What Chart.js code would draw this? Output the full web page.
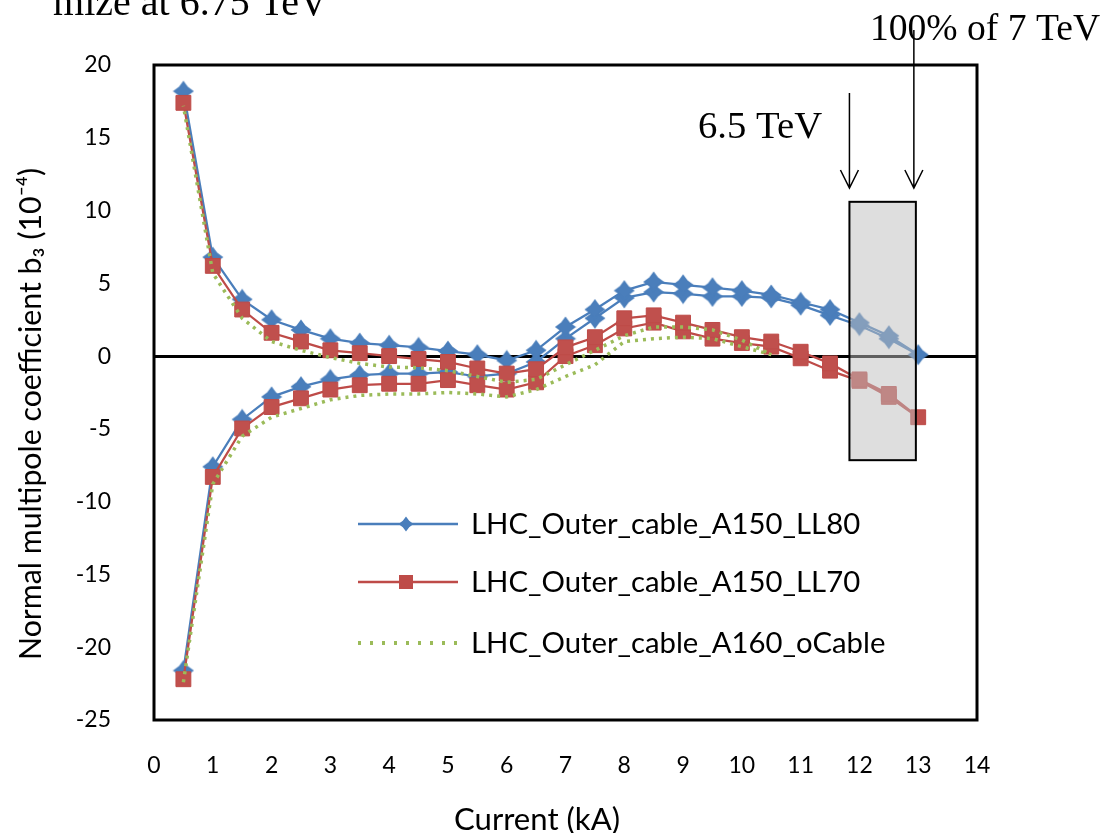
<!DOCTYPE html>
<html>
<head>
<meta charset="utf-8">
<script src="https://cdn.jsdelivr.net/npm/chart.js@4.4.0/dist/chart.umd.min.js"></script>
<style>
  html, body { margin: 0; padding: 0; background: #fff; }
</style>
</head>
<body>
<canvas id="chart" width="1107" height="833"></canvas>
<script>
// ramp up 0.5 -> 13 kA, ramp down 12.5 -> 0.5 kA
const currentUp = [0.5, 1, 1.5, 2, 2.5, 3, 3.5, 4, 4.5, 5, 5.5, 6, 6.5, 7, 7.5, 8, 8.5, 9, 9.5, 10, 10.5, 11, 11.5, 12, 12.5, 13];
const currentDown = [12.5, 12, 11.5, 11, 10.5, 10, 9.5, 9, 8.5, 8, 7.5, 7, 6.5, 6, 5.5, 5, 4.5, 4, 3.5, 3, 2.5, 2, 1.5, 1, 0.5];
// oCable only measured up to 10.5 kA
const currentUpOCable = [0.5, 1, 1.5, 2, 2.5, 3, 3.5, 4, 4.5, 5, 5.5, 6, 6.5, 7, 7.5, 8, 8.5, 9, 9.5, 10, 10.5];
const currentDownOCable = [10, 9.5, 9, 8.5, 8, 7.5, 7, 6.5, 6, 5.5, 5, 4.5, 4, 3.5, 3, 2.5, 2, 1.5, 1, 0.5];

const ll80Up = [-21.6, -7.6, -4.35, -2.8, -2.1, -1.6, -1.3, -1.2, -1.2, -1.1, -1.4, -1.2, -0.4, 1.2, 2.6, 4.0, 4.4, 4.3, 4.1, 4.1, 4.0, 3.5, 2.8, 2.1, 1.2, 0.1];
const ll80Down = [1.4, 2.3, 3.2, 3.7, 4.2, 4.5, 4.7, 4.9, 5.1, 4.5, 3.2, 2.0, 0.4, -0.3, 0.1, 0.35, 0.6, 0.75, 0.9, 1.2, 1.8, 2.5, 3.9, 6.8, 18.2];

const ll70Up = [-22.2, -8.3, -4.97, -3.5, -2.9, -2.3, -2.0, -1.9, -1.9, -1.65, -2.0, -2.3, -1.8, 0.0, 0.75, 1.9, 2.3, 1.7, 1.2, 0.9, 0.65, -0.15, -1.0, -1.7, -2.8, -4.2];
const ll70Down = [-2.6, -1.6, -0.5, 0.3, 1.0, 1.3, 1.8, 2.3, 2.8, 2.6, 1.3, 0.6, -0.9, -1.2, -0.85, -0.4, -0.2, 0.0, 0.2, 0.4, 1.0, 1.6, 3.2, 6.2, 17.4];

const oCableUp = [-22.4, -8.8, -5.5, -4.2, -3.6, -3.0, -2.7, -2.6, -2.6, -2.5, -2.6, -2.8, -2.3, -1.4, -0.6, 1.0, 1.2, 1.3, 1.2, 0.65, 0.1];
const oCableDown = [1.1, 1.8, 2.0, 2.0, 1.4, 0.4, -0.6, -1.6, -1.8, -1.4, -1.0, -0.8, -0.75, -0.5, -0.1, 0.4, 1.0, 2.6, 5.7, 17.2];

const seriesNames = ['LHC_Outer_cable_A150_LL80', 'LHC_Outer_cable_A150_LL70', 'LHC_Outer_cable_A160_oCable'];
const xTitle = 'Current (kA)';
const yTitle = 'Normal multipole coefficient b\u2083 (10\u207B\u2074)';
const xTicks = { min: 0, max: 14, step: 1 };
const yTicks = { min: -25, max: 20, step: 5 };

function loop(upX, upY, downX, downY) {
    const pts = upX.map((x, i) => ({ x: x, y: upY[i] }));
    return pts.concat(downX.map((x, i) => ({ x: x, y: downY[i] })));
}

const BLUE = '#4a7ebb';
const RED = '#be4b48';
const GREEN = '#9bbb59';

// star-ish marker like the spreadsheet one
function starMarker(size, color) {
    const c = document.createElement('canvas');
    c.width = size; c.height = size;
    const g = c.getContext('2d');
    const m = size / 2, o = size / 2 - 0.5, n = size * 0.2;
    g.fillStyle = color;
    g.beginPath();
    g.moveTo(m, m - o); g.lineTo(m + n, m - n); g.lineTo(m + o, m); g.lineTo(m + n, m + n);
    g.lineTo(m, m + o); g.lineTo(m - n, m + n); g.lineTo(m - o, m); g.lineTo(m - n, m - n);
    g.closePath();
    g.fill();
    g.beginPath();
    g.moveTo(m, m - size * 0.33); g.lineTo(m + size * 0.33, m); g.lineTo(m, m + size * 0.33); g.lineTo(m - size * 0.33, m);
    g.closePath();
    g.fill();
    return c;
}
const blueStar = starMarker(22, BLUE);
const blueStarSmall = starMarker(16, BLUE);

const tickFont = { family: "Lato, 'Open Sans', sans-serif", size: 23 };
const labelFont = "Lato, 'Open Sans', sans-serif";

// pick a font size so the text spans the wanted width
function fitFont(ctx, text, family, width, start) {
    ctx.font = start + 'px ' + family;
    const size = start * width / ctx.measureText(text).width;
    ctx.font = size.toFixed(1) + 'px ' + family;
}

const overlay = {
    id: 'overlay',
    beforeDatasetsDraw(chart) {
        const { ctx, chartArea: a } = chart;
        ctx.save();
        ctx.strokeStyle = '#000';
        ctx.lineWidth = 3;
        ctx.strokeRect(a.left, a.top, a.right - a.left, a.bottom - a.top);
        ctx.restore();
    },
    afterDatasetsDraw(chart) {
        const { ctx } = chart;
        const xs = chart.scales.x, ys = chart.scales.y;
        ctx.save();

        // shaded window 6.5 TeV .. 7 TeV
        const bx0 = xs.getPixelForValue(11.83), bx1 = xs.getPixelForValue(12.96);
        const by0 = ys.getPixelForValue(10.6), by1 = ys.getPixelForValue(-7.15);
        ctx.fillStyle = 'rgba(190,190,190,0.5)';
        ctx.fillRect(bx0, by0, bx1 - bx0, by1 - by0);
        ctx.strokeStyle = '#000';
        ctx.lineWidth = 2;
        ctx.strokeRect(bx0, by0, bx1 - bx0, by1 - by0);

        // arrows
        function arrow(x, y0, y1) {
            ctx.beginPath();
            ctx.lineWidth = 1.5;
            ctx.moveTo(x, y0); ctx.lineTo(x, y1);
            ctx.moveTo(x - 9, y1 - 18); ctx.lineTo(x, y1); ctx.lineTo(x + 9, y1 - 18);
            ctx.stroke();
        }
        arrow(bx0, 93, 188);
        arrow(bx1 - 2, 30, 188);

        ctx.fillStyle = '#000';
        ctx.textBaseline = 'alphabetic';
        ctx.textAlign = 'left';
        fitFont(ctx, '6.5 TeV', "'Liberation Serif', serif", 124, 36);
        ctx.fillText('6.5 TeV', 698, 138);
        fitFont(ctx, '100% of 7 TeV', "'Liberation Serif', serif", 230, 36);
        ctx.fillText('100% of 7 TeV', 870, 40);
        ctx.font = "40px 'Liberation Serif', serif";
        ctx.textAlign = 'right';
        ctx.fillText('mize at 6.75 TeV', 328, 15);

        // legend inside the plot
        const rows = [
            { y: 524, color: BLUE, dash: [], width: 2.5, marker: 'star' },
            { y: 582, color: RED, dash: [], width: 2.5, marker: 'square' },
            { y: 643, color: GREEN, dash: [3, 9], width: 4, marker: null }
        ];
        ctx.textAlign = 'left';
        ctx.textBaseline = 'middle';
        fitFont(ctx, seriesNames[0], labelFont, 389, 26);
        rows.forEach((r, i) => {
            ctx.strokeStyle = r.color;
            ctx.lineWidth = r.width;
            ctx.setLineDash(r.dash);
            ctx.beginPath();
            ctx.moveTo(358, r.y); ctx.lineTo(458, r.y);
            ctx.stroke();
            ctx.setLineDash([]);
            if (r.marker === 'star') {
                ctx.drawImage(blueStarSmall, 406 - 8, r.y - 8);
            } else if (r.marker === 'square') {
                ctx.fillStyle = RED;
                ctx.fillRect(399, r.y - 7, 14, 14);
            }
            ctx.fillStyle = '#000';
            ctx.fillText(seriesNames[i], 471, r.y + 1);
        });
        ctx.restore();
    },
    afterDraw(chart) {
        const { ctx } = chart;
        ctx.save();
        ctx.fillStyle = '#000';
        ctx.textAlign = 'center';
        ctx.textBaseline = 'middle';
        fitFont(ctx, xTitle, labelFont, 166, 26);
        ctx.fillText(xTitle, 537, 820);
        ctx.translate(31, 414);
        ctx.rotate(-Math.PI / 2);
        fitFont(ctx, yTitle, labelFont, 492, 26);
        ctx.fillText(yTitle, 0, 0);
        ctx.restore();
    }
};

new Chart(document.getElementById('chart'), {
    type: 'scatter',
    data: {
        datasets: [
            {
                label: seriesNames[0],
                data: loop(currentUp, ll80Up, currentDown, ll80Down),
                showLine: true,
                borderColor: BLUE,
                borderWidth: 2.25,
                pointStyle: blueStar,
                pointRadius: 10,
                order: 2
            },
            {
                label: seriesNames[1],
                data: loop(currentUp, ll70Up, currentDown, ll70Down),
                showLine: true,
                borderColor: RED,
                backgroundColor: '#c0504d',
                borderWidth: 2.25,
                pointStyle: 'rect',
                pointRadius: 10.5,
                pointBorderWidth: 1,
                pointBorderColor: RED,
                order: 1
            },
            {
                label: seriesNames[2],
                data: loop(currentUpOCable, oCableUp, currentDownOCable, oCableDown),
                showLine: true,
                borderColor: GREEN,
                borderWidth: 3.5,
                borderDash: [3, 5],
                pointRadius: 0,
                order: 0
            }
        ]
    },
    options: {
        responsive: false,
        animation: false,
        devicePixelRatio: 1,
        layout: { padding: { top: 65, right: 130, left: 0, bottom: 0 } },
        plugins: {
            legend: { display: false },
            tooltip: { enabled: false }
        },
        scales: {
            x: {
                type: 'linear',
                min: xTicks.min,
                max: xTicks.max,
                ticks: { stepSize: xTicks.step, padding: 32, color: '#000', font: tickFont },
                grid: { display: false, drawTicks: false },
                border: { display: false },
                afterFit(s) { s.height = 113; }
            },
            y: {
                min: yTicks.min,
                max: yTicks.max,
                ticks: { stepSize: yTicks.step, padding: 43, color: '#000', font: tickFont },
                grid: {
                    drawTicks: false,
                    lineWidth: 3,
                    color: c => (c.tick && c.tick.value === 0) ? '#000' : 'rgba(0,0,0,0)'
                },
                border: { display: false },
                afterFit(s) { s.width = 154; }
            }
        }
    },
    plugins: [overlay]
});
</script>
</body>
</html>
